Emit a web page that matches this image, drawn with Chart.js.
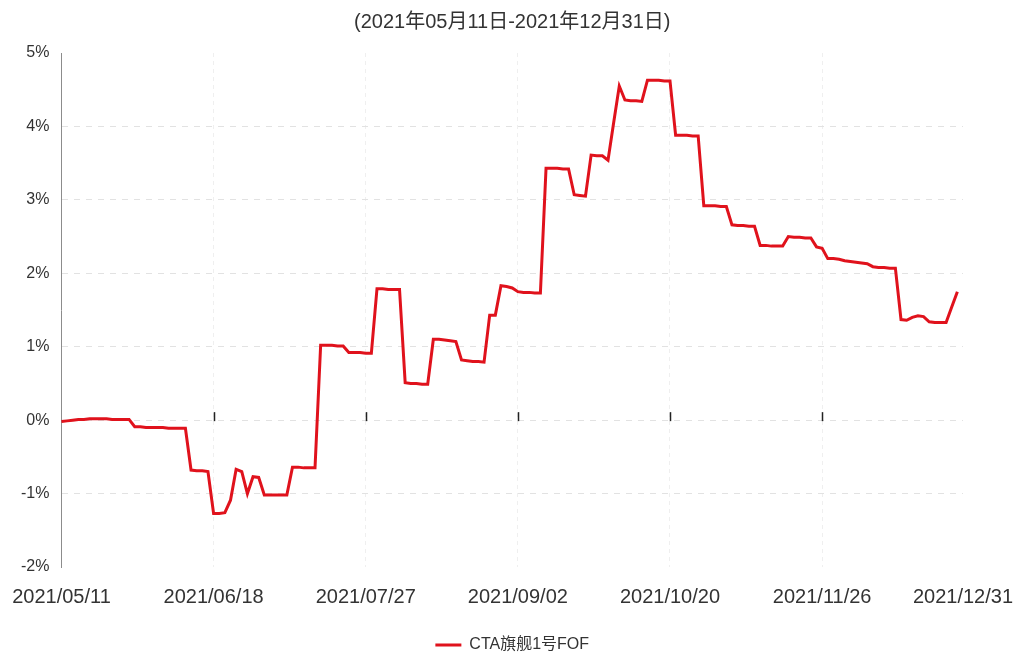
<!DOCTYPE html>
<html>
<head>
<meta charset="utf-8">
<script src="https://cdn.jsdelivr.net/npm/chart.js@4.4.1/dist/chart.umd.min.js"></script>
<style>
  html, body { margin: 0; padding: 0; background: #ffffff; }
  #wrap { width: 1035px; height: 657px; }
</style>
</head>
<body>
<div id="wrap"><canvas id="c" width="1035" height="657"></canvas></div>
<script>
// Trading dates (2021)
const dates = [
  '2021/05/11','2021/05/12','2021/05/13','2021/05/14','2021/05/17','2021/05/18','2021/05/19','2021/05/20','2021/05/21',
  '2021/05/24','2021/05/25','2021/05/26','2021/05/27','2021/05/28','2021/05/31',
  '2021/06/01','2021/06/02','2021/06/03','2021/06/04','2021/06/07','2021/06/08','2021/06/09','2021/06/10','2021/06/11',
  '2021/06/15','2021/06/16','2021/06/17','2021/06/18','2021/06/21','2021/06/22','2021/06/23','2021/06/24','2021/06/25',
  '2021/06/28','2021/06/29','2021/06/30',
  '2021/07/01','2021/07/02','2021/07/05','2021/07/06','2021/07/07','2021/07/08','2021/07/09','2021/07/12','2021/07/13',
  '2021/07/14','2021/07/15','2021/07/16','2021/07/19','2021/07/20','2021/07/21','2021/07/22','2021/07/23','2021/07/26',
  '2021/07/27','2021/07/28','2021/07/29','2021/07/30',
  '2021/08/02','2021/08/03','2021/08/04','2021/08/05','2021/08/06','2021/08/09','2021/08/10','2021/08/11','2021/08/12',
  '2021/08/13','2021/08/16','2021/08/17','2021/08/18','2021/08/19','2021/08/20','2021/08/23','2021/08/24','2021/08/25',
  '2021/08/26','2021/08/27','2021/08/30','2021/08/31',
  '2021/09/01','2021/09/02','2021/09/03','2021/09/06','2021/09/07','2021/09/08','2021/09/09','2021/09/10','2021/09/13',
  '2021/09/14','2021/09/15','2021/09/16','2021/09/17','2021/09/22','2021/09/23','2021/09/24','2021/09/27','2021/09/28',
  '2021/09/29','2021/09/30',
  '2021/10/08','2021/10/11','2021/10/12','2021/10/13','2021/10/14','2021/10/15','2021/10/18','2021/10/19','2021/10/20',
  '2021/10/21','2021/10/22','2021/10/25','2021/10/26','2021/10/27','2021/10/28','2021/10/29',
  '2021/11/01','2021/11/02','2021/11/03','2021/11/04','2021/11/05','2021/11/08','2021/11/09','2021/11/10','2021/11/11',
  '2021/11/12','2021/11/15','2021/11/16','2021/11/17','2021/11/18','2021/11/19','2021/11/22','2021/11/23','2021/11/24',
  '2021/11/25','2021/11/26','2021/11/29','2021/11/30',
  '2021/12/01','2021/12/02','2021/12/03','2021/12/06','2021/12/07','2021/12/08','2021/12/09','2021/12/10','2021/12/13',
  '2021/12/14','2021/12/15','2021/12/16','2021/12/17','2021/12/20','2021/12/21','2021/12/22','2021/12/23','2021/12/24',
  '2021/12/27','2021/12/28','2021/12/29','2021/12/30','2021/12/31'
];

// Cumulative return (%) of CTA旗舰1号FOF
const fofReturn = [
  -0.02,-0.01,0.00,0.01,0.01,0.02,0.02,0.02,0.02,0.01,0.01,0.01,0.01,-0.09,-0.09,
  -0.10,-0.10,-0.10,-0.10,-0.11,-0.11,-0.11,-0.11,-0.68,-0.69,-0.69,-0.70,-1.27,-1.27,-1.26,
  -1.09,-0.67,-0.70,-1.00,-0.77,-0.78,-1.02,-1.02,-1.02,-1.02,-1.02,-0.64,-0.64,-0.65,-0.65,
  -0.65,1.02,1.02,1.02,1.01,1.01,0.92,0.92,0.92,0.91,0.91,1.79,1.79,1.78,1.78,
  1.78,0.51,0.50,0.50,0.49,0.49,1.10,1.10,1.09,1.08,1.07,0.82,0.81,0.80,0.80,
  0.79,1.43,1.43,1.83,1.82,1.80,1.75,1.74,1.74,1.73,1.73,3.43,3.43,3.43,3.42,
  3.42,3.07,3.06,3.05,3.61,3.60,3.60,3.54,4.05,4.55,4.36,4.35,4.35,4.34,4.63,
  4.63,4.63,4.62,4.62,3.88,3.88,3.88,3.87,3.87,2.92,2.92,2.92,2.91,2.91,2.66,
  2.65,2.65,2.64,2.64,2.38,2.38,2.37,2.37,2.37,2.50,2.49,2.49,2.48,2.48,2.36,
  2.34,2.20,2.20,2.19,2.17,2.16,2.15,2.14,2.13,2.09,2.08,2.08,2.07,2.07,1.37,
  1.36,1.40,1.42,1.41,1.34,1.33,1.33,1.33,1.54,1.75
];

const tickLabels = ['2021/05/11','2021/06/18','2021/07/27','2021/09/02','2021/10/20','2021/11/26','2021/12/31'];
const yTicks = [-2, -1, 0, 1, 2, 3, 4, 5];
const seriesName = 'CTA旗舰1号FOF';
const titleText = '(2021年05月11日-2021年12月31日)';

const RED = '#E0121C';
const FONT = "'Liberation Sans', Arial, 'Noto Sans CJK SC', sans-serif";

const zeroTicks = {
  id: 'zeroTicks',
  afterDatasetsDraw(chart) {
    const x = chart.scales.x, y = chart.scales.y, ctx = chart.ctx;
    const y0 = y.getPixelForValue(0);
    ctx.save();
    ctx.strokeStyle = '#222';
    ctx.lineWidth = 1.5;
    tickLabels.slice(1, -1).forEach(lbl => {
      const px = Math.round(x.getPixelForValue(dates.indexOf(lbl))) + 0.5;
      ctx.beginPath();
      ctx.moveTo(px, y0 - 8);
      ctx.lineTo(px, y0 + 1);
      ctx.stroke();
    });
    ctx.restore();
  }
};

new Chart(document.getElementById('c'), {
  type: 'line',
  data: {
    labels: dates,
    datasets: [{
      label: seriesName,
      data: fofReturn,
      borderColor: RED,
      backgroundColor: RED,
      borderWidth: 3,
      pointRadius: 0,
      tension: 0
    }]
  },
  options: {
    responsive: false,
    animation: false,
    layout: { padding: { top: 2, left: 9, right: 72, bottom: -6 } },
    plugins: {
      title: {
        display: true,
        text: titleText,
        fullSize: false,
        color: '#333',
        font: { family: FONT, size: 20, weight: 'normal' },
        padding: { top: 8, bottom: 19 }
      },
      legend: {
        display: true,
        position: 'bottom',
        fullSize: false,
        labels: {
          color: '#333',
          font: { family: FONT, size: 16 },
          boxWidth: 26,
          boxHeight: 3,
          padding: 10,
          generateLabels(chart) {
            const items = Chart.defaults.plugins.legend.labels.generateLabels(chart);
            items.forEach(it => { it.lineWidth = 0; it.fillStyle = RED; it.strokeStyle = RED; });
            return items;
          }
        }
      },
      tooltip: { enabled: false }
    },
    scales: {
      x: {
        type: 'category',
        offset: false,
        border: { display: false, dash: [4, 4] },
        grid: {
          drawTicks: false,
          color: (c) => (c.tick && (c.tick.value === 0 || c.tick.value === dates.length - 1)) ? 'rgba(0,0,0,0)' : '#efefef',
          lineWidth: 1
        },
        afterFit(scale) { scale.paddingLeft = 0; },
        ticks: {
          autoSkip: false,
          maxRotation: 0,
          minRotation: 0,
          padding: 18,
          color: '#333',
          font: { family: FONT, size: 20 },
          callback(val, idx) {
            const l = dates[idx];
            return tickLabels.includes(l) ? l : null;
          }
        }
      },
      y: {
        min: -2,
        max: 5,
        border: { display: true, color: '#8c8c8c', width: 1, dash: [6, 6] },
        grid: {
          drawTicks: false,
          color: (c) => (c.tick && (c.tick.value === -2 || c.tick.value === 5)) ? 'rgba(0,0,0,0)' : '#e2e2e2',
          lineWidth: 1
        },
        afterBuildTicks(scale) { scale.ticks = yTicks.map(v => ({ value: v })); },
        ticks: {
          padding: 12,
          color: '#333',
          font: { family: FONT, size: 16 },
          callback(v) { return v + '%'; }
        }
      }
    }
  },
  plugins: [zeroTicks]
});
</script>
</body>
</html>
